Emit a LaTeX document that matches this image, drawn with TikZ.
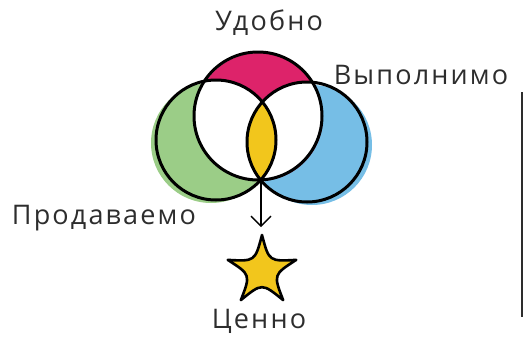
\documentclass[tikz,border=0pt]{standalone}
\usepackage{fontspec}
\setmainfont{Open Sans}[LetterSpace=8]
\usetikzlibrary{calc, positioning}
\usetikzlibrary{arrows.meta}
\definecolor{vmagenta}{RGB}{221,35,106}
\definecolor{vgreen}{RGB}{155,205,135}
\definecolor{vblue}{RGB}{118,190,230}
\definecolor{vyellow}{RGB}{242,198,28}
\definecolor{vtext}{RGB}{45,45,45}
\tikzset{
  ring/.style={line width=3pt, black},
  lbl/.style={text=vtext, font=\fontsize{27}{30}\selectfont, inner sep=0pt, anchor=base}
}

\begin{document}
\begin{tikzpicture}[x=1pt, y=-1pt]
\useasboundingbox (0,0) rectangle (525,338);
\def\rT{64}
\def\rL{60}
\def\rR{60}
\def\so{36}
\pgfmathsetmacro{\sc}{0.33*\so}

\coordinate (T) at (258,116);
\coordinate (L) at (216,140);
\coordinate (R) at (307,142);
\coordinate (P) at (261,181);
\coordinate (S) at (262,271);
\coordinate (tip) at (261,227);

% Coloured discs, set a little off the outlines
\fill[vgreen] ($(L)+(-5,3)$) circle[radius=\rL];
\fill[vblue] ($(R)+(5,3)$) circle[radius=\rR];
\fill[vmagenta] ($(T)+(1,1)$) circle[radius=\rT];

% White where the top disc meets a side disc
\begin{scope}
  \clip (T) circle[radius=\rT];
  \fill[white] (L) circle[radius=\rL];
  \fill[white] (R) circle[radius=\rR];
\end{scope}

% Yellow lens between the side discs
\begin{scope}
  \clip (L) circle[radius=\rL];
  \fill[vyellow] (R) circle[radius=\rR];
\end{scope}

% Three outlines
\draw[ring] (T) circle[radius=\rT];
\draw[ring] (L) circle[radius=\rL];
\draw[ring] (R) circle[radius=\rR];

% Arrow down to the star
\draw[line width=1.3pt, -{Straight Barb[length=10pt, width=20pt, line width=1.3pt]}] (P) -- (tip);

% Star
\draw[line width=2.6pt, line join=round, fill=vyellow]
  ($(S)+(270:\so)$) .. controls ($(S)+(306:\sc)$) .. ($(S)+(342:\so)$)
  .. controls ($(S)+(18:\sc)$) .. ($(S)+(54:\so)$)
  .. controls ($(S)+(90:\sc)$) .. ($(S)+(126:\so)$)
  .. controls ($(S)+(162:\sc)$) .. ($(S)+(198:\so)$)
  .. controls ($(S)+(234:\sc)$) .. ($(S)+(270:\so)$) -- cycle;

% Side rule
\draw[line width=2pt, vtext] (522,92) -- (522,317);

% Labels
\node[lbl] (udobno) at (269,30) {Удобно};
\node[lbl] (vypolnimo) at (421,84) {Выполнимо};
\node[lbl] (prodavaemo) at (104,224) {Продаваемо};
\node[lbl] (cenno) at (259,328) {Ценно};
\end{tikzpicture}
\end{document}
